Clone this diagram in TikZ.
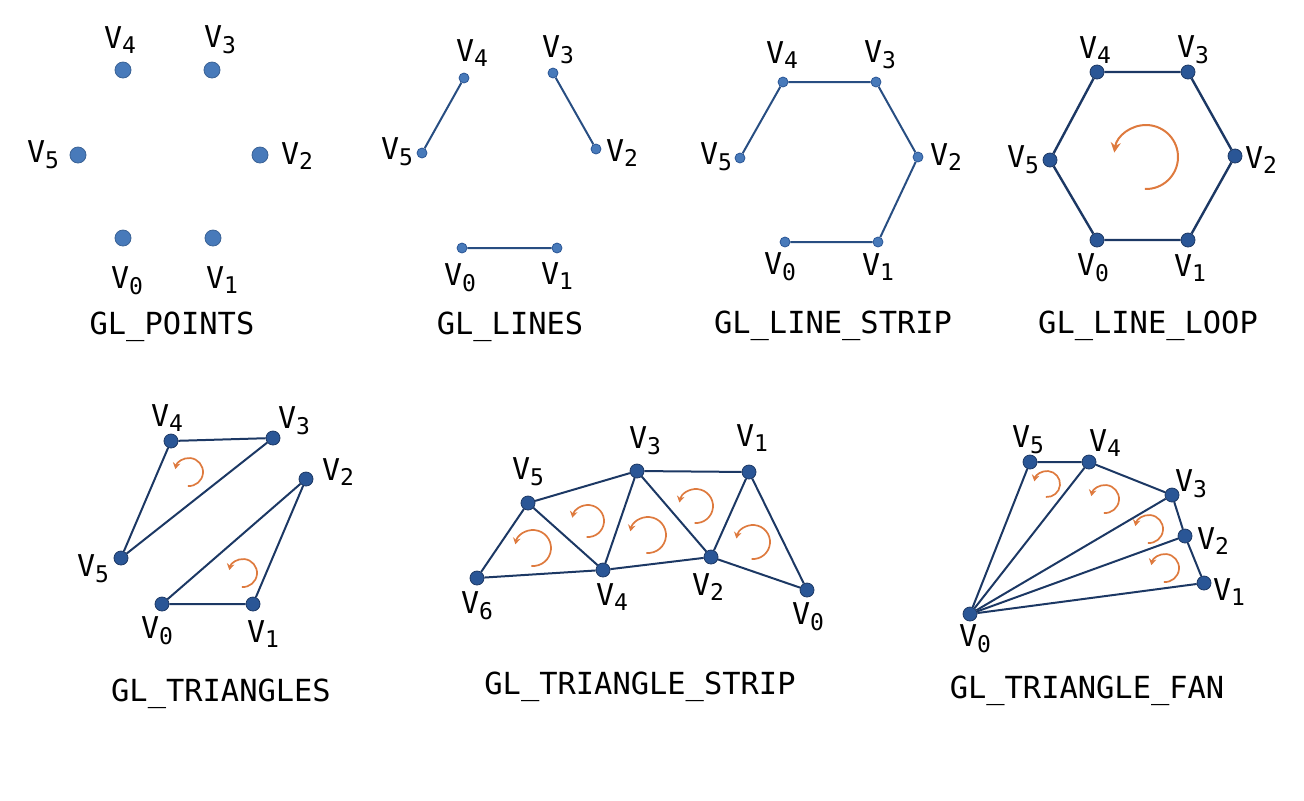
\documentclass[tikz,border=0pt]{standalone}
\usepackage{fontspec}
\setmainfont{DejaVu Sans Mono}
\usetikzlibrary{arrows.meta}

\definecolor{ptblue}{RGB}{72,122,186}
\definecolor{dotblue}{RGB}{42,86,150}
\definecolor{edgeblue}{RGB}{28,56,100}
\definecolor{linkblue}{RGB}{40,78,130}
\definecolor{windorange}{RGB}{222,122,62}

\newcommand{\vx}[1]{V\raisebox{-0.35ex}{\fontsize{11.5}{11.5}\selectfont#1}}

\begin{document}
\begin{tikzpicture}[x=0.5pt,y=-0.5pt,
    vdot/.style={circle,fill=dotblue,draw=edgeblue,line width=0.4pt,inner sep=0pt,minimum size=7pt},
    ptdot/.style={vdot,fill=ptblue,draw=ptblue!80!black,minimum size=8pt},
    smalldot/.style={vdot,fill=ptblue,draw=dotblue,minimum size=5pt},
    vlab/.style={font=\fontsize{15}{15}\selectfont,inner sep=0pt},
    title/.style={font=\fontsize{15.2}{15.2}\selectfont,inner sep=0pt,anchor=base},
    edge/.style={edgeblue,line width=1pt},
    windarrow/.style={windorange,line width=0.85pt,-{Stealth[length=3.2pt,width=3.8pt]}},
    bigwind/.style={windarrow,line width=1pt,-{Stealth[length=5pt,width=5pt]}}]
  \useasboundingbox (0,0) rectangle (1304,800);
  % --- GL_POINTS ---
  \foreach \i/\x/\y/\lx/\ly in {0/123/238/127/281, 1/213/238/222/280, 2/260/155/297/156,
                                3/212/70/220/40, 4/123/70/120/40, 5/78/155/43/155} {
    \node[ptdot] (pt\i) at (\x,\y) {};
    \node[vlab] (ptl\i) at (\lx,\ly) {\vx{\i}};
  }
  \node[title] (ptname) at (172,334) {GL\_POINTS};
  % --- GL_LINES ---
  \foreach \i/\x/\y/\lx/\ly in {0/462/248/460/278, 1/557/248/557/276, 2/596/149/622/153,
                                3/553/73/558/50, 4/464/78/472/53, 5/422/153/397/152} {
    \node[smalldot] (ln\i) at (\x,\y) {};
    \node[vlab] (lnl\i) at (\lx,\ly) {\vx{\i}};
  }
  \draw[edge,linkblue] (ln0) -- (ln1) (ln2) -- (ln3) (ln4) -- (ln5);
  \node[title] (lnname) at (510,334) {GL\_LINES};
  % --- GL_LINE_STRIP ---
  \foreach \i/\x/\y/\lx/\ly in {0/785/242/780/267, 1/878/242/878/267, 2/918/157/946/157,
                                3/876/82/880/55, 4/783/82/782/55, 5/740/158/716/157} {
    \node[smalldot] (ls\i) at (\x,\y) {};
    \node[vlab] (lsl\i) at (\lx,\ly) {\vx{\i}};
  }
  \draw[edge,linkblue] (ls0) -- (ls1) -- (ls2) -- (ls3) -- (ls4) -- (ls5);
  \node[title] (lsname) at (833,333) {GL\_LINE\_STRIP};
  % --- GL_LINE_LOOP ---
  \foreach \i/\x/\y/\lx/\ly in {0/1097/240/1093/268, 1/1188/240/1190/268, 2/1235/156/1261/160,
                                3/1188/72/1193/50, 4/1097/72/1095/50, 5/1050/160/1023/160} {
    \node[vdot] (lp\i) at (\x,\y) {};
    \node[vlab] (lpl\i) at (\lx,\ly) {\vx{\i}};
  }
  \draw[edge,line width=1.2pt] (lp0) -- (lp1) -- (lp2) -- (lp3) -- (lp4) -- (lp5) -- (lp0);
  \draw[bigwind] (1146,157) ++(92:32) arc[start angle=92,end angle=-172,radius=32];
  \node[title] (lpname) at (1148,333) {GL\_LINE\_LOOP};
  % --- GL_TRIANGLES ---
  \foreach \i/\x/\y/\lx/\ly in {0/162/604/157/631, 1/253/604/263/634, 2/306/479/338/472,
                                3/273/438/294/421, 4/171/441/167/418, 5/121/558/93/569} {
    \node[vdot] (tr\i) at (\x,\y) {};
    \node[vlab] (trl\i) at (\lx,\ly) {\vx{\i}};
  }
  \draw[edge] (tr0) -- (tr1) -- (tr2) -- (tr0);
  \draw[edge] (tr3) -- (tr4) -- (tr5) -- (tr3);
  \foreach \cx/\cy/\r in {189/472/14, 243/573/14}
    \draw[windarrow] (\cx,\cy) ++(95:\r) arc[start angle=95,end angle=-168,radius=\r];
  \node[title] (trname) at (221,701) {GL\_TRIANGLES};
  % --- GL_TRIANGLE_STRIP ---
  \foreach \i/\x/\y/\lx/\ly in {0/807/590/808/617, 1/749/472/752/438, 2/711/557/708/587,
                                3/637/471/645/441, 4/603/570/612/597, 5/528/503/528/472,
                                6/477/578/477/606} {
    \node[vdot] (ts\i) at (\x,\y) {};
    \node[vlab] (tsl\i) at (\lx,\ly) {\vx{\i}};
  }
  \draw[edge] (ts6) -- (ts5) -- (ts3) -- (ts1) -- (ts0) -- (ts2) -- (ts4) -- (ts6);
  \draw[edge] (ts5) -- (ts4) -- (ts3) -- (ts2) -- (ts1);
  \foreach \cx/\cy/\r in {533/548/18, 588/521/16, 648/535/18, 696/506/17, 753/542/17}
    \draw[windarrow] (\cx,\cy) ++(95:\r) arc[start angle=95,end angle=-168,radius=\r];
  \node[title] (tsname) at (640,694) {GL\_TRIANGLE\_STRIP};
  % --- GL_TRIANGLE_FAN ---
  \foreach \i/\x/\y/\lx/\ly in {0/970/614/975/639, 1/1204/583/1229/592, 2/1185/536/1213/541,
                                3/1172/495/1191/484, 4/1089/462/1105/443, 5/1030/462/1028/440} {
    \node[vdot] (tf\i) at (\x,\y) {};
    \node[vlab] (tfl\i) at (\lx,\ly) {\vx{\i}};
  }
  \draw[edge] (tf1) -- (tf2) -- (tf3) -- (tf4) -- (tf5);
  \foreach \j in {1,...,5}
    \draw[edge] (tf0) -- (tf\j);
  \foreach \cx/\cy/\r in {1047/484/13, 1105/499/14, 1149/529/14, 1165/568/14}
    \draw[windarrow] (\cx,\cy) ++(95:\r) arc[start angle=95,end angle=-168,radius=\r];
  \node[title] (tfname) at (1087,698) {GL\_TRIANGLE\_FAN};
\end{tikzpicture}
\end{document}
